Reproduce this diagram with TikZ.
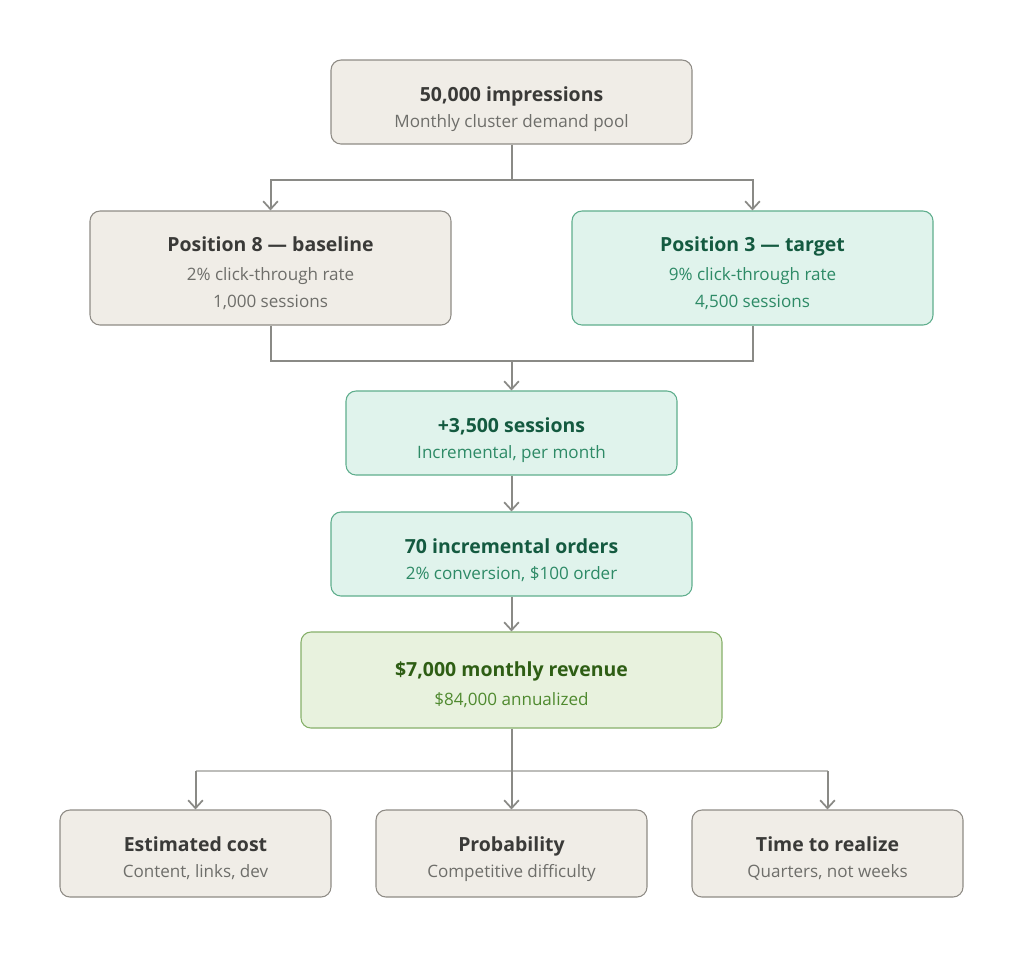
\documentclass[tikz,border=0pt]{standalone}
\usepackage{fontspec}
\setmainfont{Open Sans}
\usetikzlibrary{arrows.meta}
\definecolor{begfill}{HTML}{F0EDE7}
\definecolor{begdraw}{HTML}{8F8C86}
\definecolor{begtitle}{HTML}{3A3A38}
\definecolor{begsub}{HTML}{6E6E6A}
\definecolor{mintfill}{HTML}{E0F3EC}
\definecolor{mintdraw}{HTML}{5FAE8D}
\definecolor{minttitle}{HTML}{145A40}
\definecolor{mintsub}{HTML}{2D8A66}
\definecolor{revfill}{HTML}{E8F2DE}
\definecolor{revdraw}{HTML}{86B06A}
\definecolor{revtitle}{HTML}{2E5E14}
\definecolor{revsub}{HTML}{4F8A2F}
\definecolor{conncol}{HTML}{8A8A86}
\definecolor{hlinecol}{HTML}{BDBDBA}
\tikzset{
  box/.style={rectangle, rounded corners=7.5pt, line width=0.8pt, inner sep=0pt},
  begbox/.style={box, fill=begfill, draw=begdraw},
  mintbox/.style={box, fill=mintfill, draw=mintdraw},
  revbox/.style={box, fill=revfill, draw=revdraw},
  ttl/.style={inner sep=0pt, text height=10.5pt, text depth=3.5pt, font=\fontsize{14.6}{17}\selectfont\bfseries},
  sbt/.style={inner sep=0pt, text height=9.2pt, text depth=3pt, font=\fontsize{12.8}{15}\selectfont},
  wire/.style={draw=conncol, line width=1.5pt},
  arr/.style={wire, -{Straight Barb[length=6pt,width=11pt,line width=1.3pt]}},
  hwire/.style={draw=hlinecol, line width=1pt}
}
\begin{document}
\begin{tikzpicture}[x=0.75pt,y=-0.75pt]
\useasboundingbox[fill=white] (0,0) rectangle (1024,958);
% boxes
\node[begbox, minimum width=270.75pt, minimum height=63pt] (top) at (511.5,102) {};
\node[begbox, minimum width=270.75pt, minimum height=85.5pt] (base) at (270.5,268) {};
\node[mintbox, minimum width=270.75pt, minimum height=85.5pt] (target) at (752.5,268) {};
\node[mintbox, minimum width=248.25pt, minimum height=63pt] (inc) at (511.5,433) {};
\node[mintbox, minimum width=270.75pt, minimum height=63pt] (orders) at (511.5,554) {};
\node[revbox, minimum width=315.75pt, minimum height=72pt] (rev) at (511.5,680) {};
\node[begbox, minimum width=203.25pt, minimum height=65.25pt] (cost) at (195.5,853.5) {};
\node[begbox, minimum width=203.25pt, minimum height=65.25pt] (prob) at (511.5,853.5) {};
\node[begbox, minimum width=203.25pt, minimum height=65.25pt] (time) at (827.5,853.5) {};
% texts
\node[ttl, text=begtitle] (topT) at (511.5,97) {50,000 impressions};
\node[sbt, text=begsub] (topS) at (511.5,123) {Monthly cluster demand pool};
\node[ttl, text=begtitle] (baseT) at (270.5,247) {Position 8 — baseline};
\node[sbt, text=begsub] (baseS) at (270.5,276) {2\% click-through rate};
\node[sbt, text=begsub] (baseN) at (270.5,303) {1,000 sessions};
\node[ttl, text=minttitle] (targetT) at (752.5,247) {Position 3 — target};
\node[sbt, text=mintsub] (targetS) at (752.5,276) {9\% click-through rate};
\node[sbt, text=mintsub] (targetN) at (752.5,303) {4,500 sessions};
\node[ttl, text=minttitle] (incT) at (511.5,428) {+3,500 sessions};
\node[sbt, text=mintsub] (incS) at (511.5,454) {Incremental, per month};
\node[ttl, text=minttitle] (ordersT) at (511.5,549) {70 incremental orders};
\node[sbt, text=mintsub] (ordersS) at (511.5,575) {2\% conversion, \$100 order};
\node[ttl, text=revtitle] (revT) at (511.5,672) {\$7,000 monthly revenue};
\node[sbt, text=revsub] (revS) at (511.5,701) {\$84,000 annualized};
\node[ttl, text=begtitle] (costT) at (195.5,847) {Estimated cost};
\node[sbt, text=begsub] (costS) at (195.5,873) {Content, links, dev};
\node[ttl, text=begtitle] (probT) at (511.5,847) {Probability};
\node[sbt, text=begsub] (probS) at (511.5,873) {Competitive difficulty};
\node[ttl, text=begtitle] (timeT) at (827.5,847) {Time to realize};
\node[sbt, text=begsub] (timeS) at (827.5,873) {Quarters, not weeks};
% split from top
\coordinate (s1) at (511.5,180);
\draw[wire] (top.south) -- (s1);
\draw[arr] (s1) -| (base.north);
\draw[arr] (s1) -| (target.north);
% merge
\coordinate (m1) at (511.5,361);
\draw[wire] (base.south) |- (m1) -| (target.south);
\draw[arr] (m1) -- (inc.north);
\draw[arr] (inc.south) -- (orders.north);
\draw[arr] (orders.south) -- (rev.north);
% bottom fan
\coordinate (b1) at (511.5,771);
\draw[hwire] (cost.north |- b1) -- (time.north |- b1);
\draw[arr] (cost.north |- b1) -- (cost.north);
\draw[arr] (time.north |- b1) -- (time.north);
\draw[arr] (rev.south) -- (prob.north);
\end{tikzpicture}
\end{document}
